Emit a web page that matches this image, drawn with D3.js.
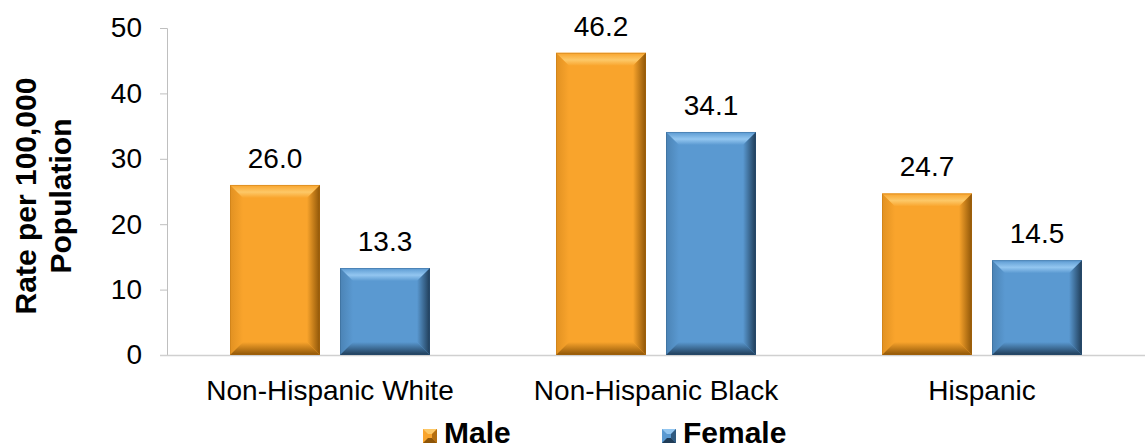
<!DOCTYPE html>
<html>
<head>
<meta charset="utf-8">
<script src="https://cdn.jsdelivr.net/npm/d3@7"></script>
<style>
  html, body { margin: 0; padding: 0; background: #fff; }
  svg { display: block; font-family: Arial, "Liberation Sans", sans-serif; }
</style>
</head>
<body>
<svg id="chart" width="1146" height="444"></svg>
<script>
// Rates per 100,000 population by race/ethnicity and sex
const categories = ["Non-Hispanic White", "Non-Hispanic Black", "Hispanic"];
const seriesNames = ["Male", "Female"];
const maleValues = [26.0, 46.2, 24.7];
const femaleValues = [13.3, 34.1, 14.5];
const yTicks = [0, 10, 20, 30, 40, 50];

const palette = {
  Male:   { base: "#F9A42C", light: "#FDC867", dark: "#B56E0E", darker: "#8E5507" },
  Female: { base: "#5A99D1", light: "#93C6F0", dark: "#2F5A80", darker: "#1F3C57" }
};

const FONT = "Arial, 'Liberation Sans', sans-serif";
const svg = d3.select("#chart");
const margin = { left: 167, right: 1, top: 28, bottom: 89 };
const W = 1146, H = 444;
const plotW = W - margin.left - margin.right;
const plotH = H - margin.top - margin.bottom;

const rows = seriesNames.map((s, i) => ({
  name: s,
  values: i === 0 ? maleValues : femaleValues
}));

const x0 = d3.scaleBand().domain(categories).range([0, plotW]).paddingInner(0).paddingOuter(0);
const x1 = d3.scaleBand().domain(seriesNames).range([63, x0.bandwidth() - 63]).paddingInner(0.1818).paddingOuter(0);
const y = d3.scaleLinear().domain([0, 50]).range([plotH, 0]);

const g = svg.append("g").attr("transform", `translate(${margin.left},${margin.top})`);

// gradients for the bevelled bar faces
const defs = svg.append("defs");
seriesNames.forEach(s => {
  const c = palette[s];
  const top = defs.append("linearGradient").attr("id", `top-${s}`).attr("x1", 0).attr("y1", 0).attr("x2", 0).attr("y2", 1);
  top.append("stop").attr("offset", "0%").attr("stop-color", c.base);
  top.append("stop").attr("offset", "55%").attr("stop-color", c.light);
  top.append("stop").attr("offset", "100%").attr("stop-color", c.base);
  const right = defs.append("linearGradient").attr("id", `right-${s}`).attr("x1", 0).attr("y1", 0).attr("x2", 1).attr("y2", 0);
  right.append("stop").attr("offset", "0%").attr("stop-color", c.base);
  right.append("stop").attr("offset", "100%").attr("stop-color", c.darker);
  const left = defs.append("linearGradient").attr("id", `left-${s}`).attr("x1", 0).attr("y1", 0).attr("x2", 1).attr("y2", 0);
  left.append("stop").attr("offset", "0%").attr("stop-color", c.dark);
  left.append("stop").attr("offset", "100%").attr("stop-color", c.base);
  const bottom = defs.append("linearGradient").attr("id", `bottom-${s}`).attr("x1", 0).attr("y1", 0).attr("x2", 0).attr("y2", 1);
  bottom.append("stop").attr("offset", "0%").attr("stop-color", c.base);
  bottom.append("stop").attr("offset", "100%").attr("stop-color", c.darker);
});

// y axis
const yAxis = d3.axisLeft(y).tickValues(yTicks).tickSize(7).tickPadding(18).tickFormat(d3.format("d"));
const ya = g.append("g").call(yAxis);
ya.select(".domain").attr("stroke", "#BFBFBF").attr("d", `M-7,0.5H0.5V${plotH}`);
ya.selectAll(".tick line").attr("stroke", "#BFBFBF");
ya.selectAll(".tick text").attr("font-size", 28).attr("fill", "#000").attr("font-family", FONT);

// baseline
g.append("line").attr("x1", -7).attr("x2", plotW).attr("y1", plotH + 0.5).attr("y2", plotH + 0.5)
  .attr("stroke", "#D0D0D0").attr("stroke-width", 1.5);

// bars with bevel faces
const bev = 13;
const groups = g.selectAll(".cat").data(categories).join("g")
  .attr("class", "cat").attr("transform", d => `translate(${x0(d)},0)`);

groups.each(function(cat, ci) {
  const grp = d3.select(this);
  rows.forEach(r => {
    const v = r.values[ci];
    const bx = x1(r.name), bw = x1.bandwidth();
    const by = y(v), bh = y(0) - y(v);
    const s = r.name;
    const b = Math.min(bev, bh / 2, bw / 2);
    const L = bx, R = bx + bw, T = by, B = by + bh;
    const bar = grp.append("g");
    bar.append("rect").attr("x", L).attr("y", T).attr("width", bw).attr("height", bh).attr("fill", palette[s].base);
    bar.append("polygon").attr("points", [[L, T], [R, T], [R - b, T + b], [L + b, T + b]].join(" ")).attr("fill", `url(#top-${s})`);
    bar.append("polygon").attr("points", [[L, T], [L + b, T + b], [L + b, B - b], [L, B]].join(" ")).attr("fill", `url(#left-${s})`).attr("opacity", 0.35);
    bar.append("polygon").attr("points", [[R, T], [R, B], [R - b, B - b], [R - b, T + b]].join(" ")).attr("fill", `url(#right-${s})`);
    bar.append("polygon").attr("points", [[L, B], [R, B], [R - b, B - b], [L + b, B - b]].join(" ")).attr("fill", `url(#bottom-${s})`);
    bar.append("rect").attr("x", L + 0.5).attr("y", T + 0.5).attr("width", bw - 1).attr("height", bh - 1)
      .attr("fill", "none").attr("stroke", palette[s].dark).attr("stroke-opacity", 0.35);
    grp.append("text").attr("x", bx + bw / 2).attr("y", by - 17)
      .attr("text-anchor", "middle").attr("font-size", 28).attr("fill", "#000")
      .text(d3.format(".1f")(v));
  });
});

// category labels
const xAxis = d3.axisBottom(x0).tickSize(0).tickPadding(0);
const xa = g.append("g").attr("transform", `translate(0,${plotH})`).call(xAxis);
xa.select(".domain").remove();
xa.selectAll(".tick text").attr("font-size", 28).attr("fill", "#000").attr("font-family", FONT)
  .attr("dy", null).attr("y", 45);

// y title
const yt = svg.append("text").attr("transform", `translate(0,196) rotate(-90)`)
  .attr("text-anchor", "middle").attr("font-size", 30).attr("font-weight", "bold").attr("fill", "#000");
yt.append("tspan").attr("x", 0).attr("y", 36).text("Rate per 100,000");
yt.append("tspan").attr("x", 0).attr("y", 71).text("Population");

// legend
const legendX = [423, 662];
const lg = svg.selectAll(".legend").data(seriesNames).join("g")
  .attr("class", "legend").attr("transform", (d, i) => `translate(${legendX[i]},429)`);
lg.each(function(s) {
  const l = d3.select(this);
  const sz = 14, b = 5;
  l.append("rect").attr("width", sz).attr("height", sz).attr("fill", palette[s].base);
  l.append("polygon").attr("points", [[0, 0], [sz, 0], [sz - b, b], [b, b]].join(" ")).attr("fill", palette[s].light);
  l.append("polygon").attr("points", [[sz, 0], [sz, sz], [sz - b, sz - b], [sz - b, b]].join(" ")).attr("fill", palette[s].dark);
  l.append("polygon").attr("points", [[0, sz], [sz, sz], [sz - b, sz - b], [b, sz - b]].join(" ")).attr("fill", palette[s].darker);
  l.append("text").attr("x", sz + 7).attr("y", 14).attr("font-size", 30).attr("font-weight", "bold").attr("fill", "#000").text(s);
});
</script>
</body>
</html>
